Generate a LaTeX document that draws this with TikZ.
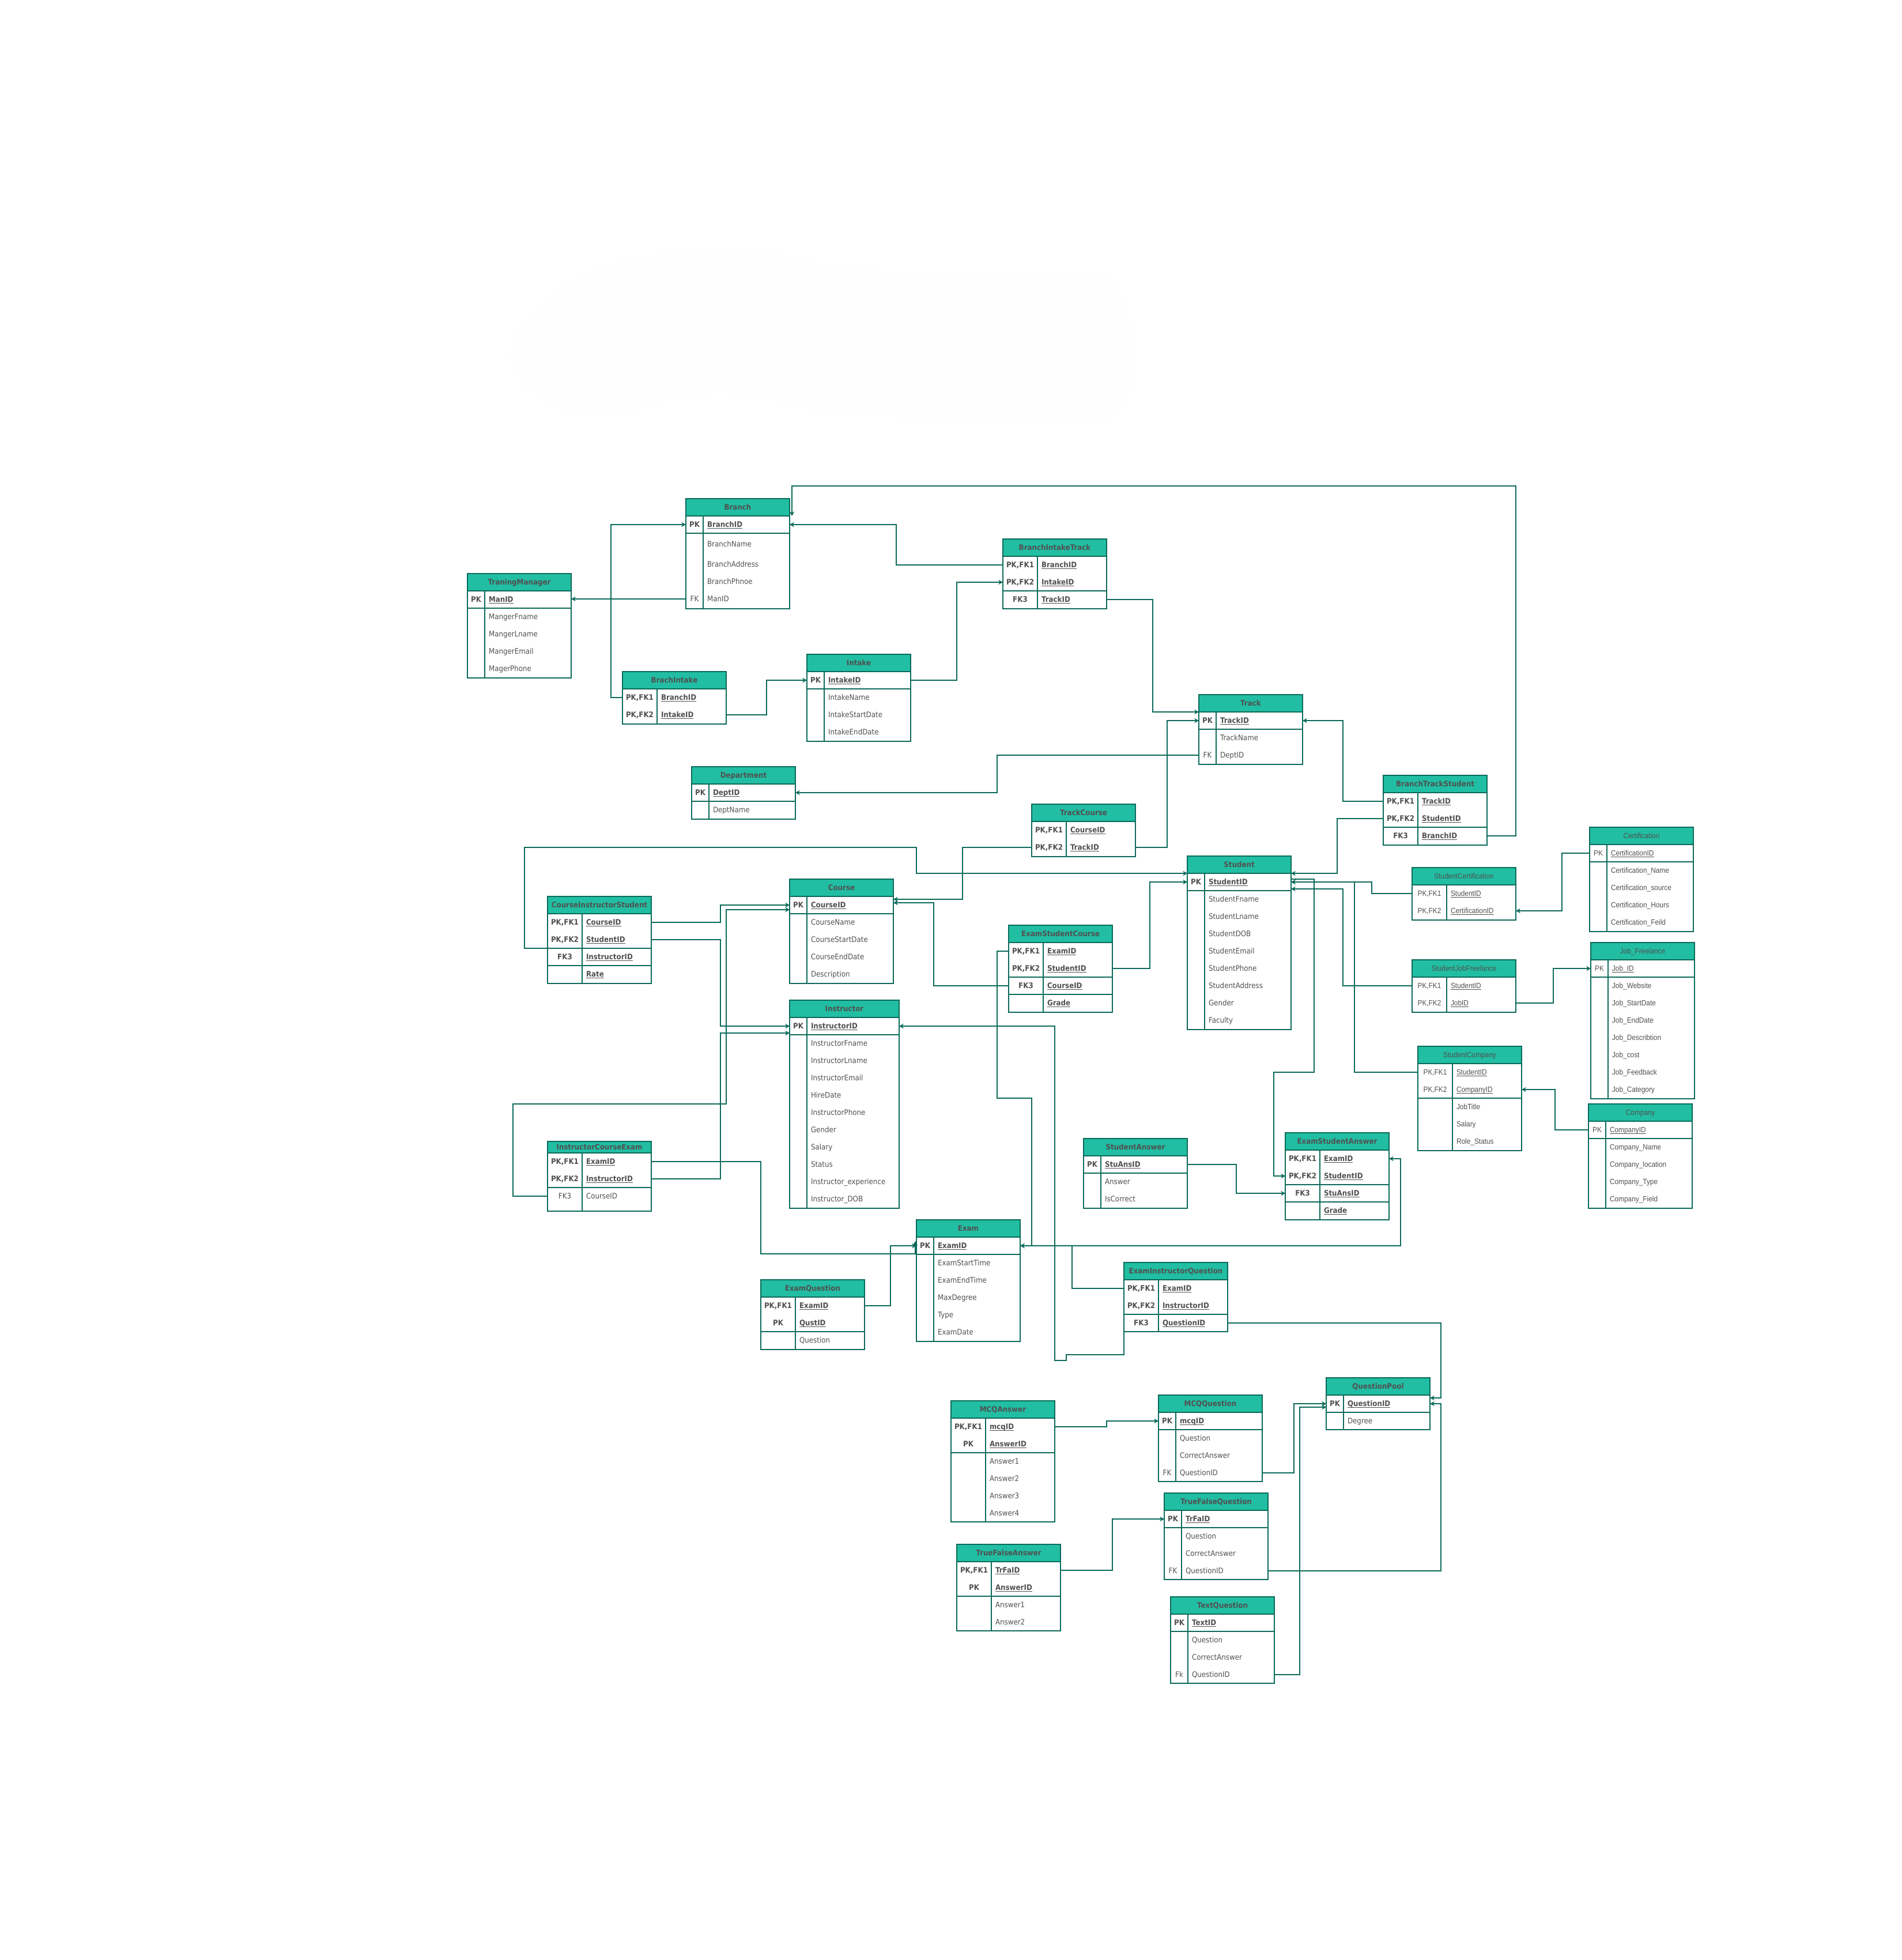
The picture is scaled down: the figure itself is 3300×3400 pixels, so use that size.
\documentclass[tikz,border=0pt]{standalone}
\usepackage{fontspec}
\setmainfont{DejaVu Sans}[FakeStretch=0.9]
\newfontfamily\arfam{Liberation Sans}[FakeStretch=0.9]
\usetikzlibrary{arrows.meta,calc}
\definecolor{hdr}{HTML}{21BEA3}
\definecolor{ln}{HTML}{0B6A5A}
\definecolor{tx}{HTML}{505050}
\definecolor{blobc}{HTML}{FEFEFE}
\newcommand\Dvf{\rmfamily\fontsize{3.75}{4.5}\selectfont}
\newcommand\Arf{\arfam\fontsize{3.75}{4.5}\selectfont}
\newcommand\Ul[1]{\setbox0\hbox{#1}\rlap{\rule[-0.6pt]{\wd0}{0.3pt}}\box0}
\newcommand\Kf[1]{\if b#1\bfseries\fi}
\newcommand\Fld[2]{\if n#1#2\else\Ul{#2}\fi}
\def\Thh{30}
\tikzset{
 tline/.style={draw=ln,line width=0.35pt},
 txt/.style={text=tx,inner sep=0pt,outer sep=0pt},
 rowbox/.style={inner sep=0pt,outer sep=0pt,minimum height=8.536pt,draw=none},
 fk/.style={draw=ln,line width=0.35pt,-{Stealth[length=2.2pt,width=2.4pt]}},
}
% name, x, ytop, width, keywidth, ybottom, title, font, title weight
\newcommand\Tbl[9]{%
 \def\Tx{#2}\def\Tw{#4}\def\Tkw{#5}\def\Tfont{#8}%
 \pgfmathsetmacro\Thb{#3+\Thh}%
 \fill[hdr] (#2,#3) rectangle ({#2+#4},\Thb);
 \draw[tline] (#2,#3) rectangle ({#2+#4},#6);
 \draw[tline] (#2,\Thb) -- ({#2+#4},\Thb);
 \draw[tline] ({#2+#5},\Thb) -- ({#2+#5},#6);
 \node[txt,anchor=base,font=#8#9] (#1-h) at ({#2+#4/2},{#3+\Thh/2+4.8}) {#7};
}
% name, index, ycenter, key, field, style
\newcommand\Rw[6]{%
 \node[rowbox,minimum width={\Tw*0.284527pt}] (#1-#2) at ({\Tx+\Tw/2},#3) {};
 \node[txt,anchor=base,font=\Tfont\Kf{#6}] (#1-#2k) at ({\Tx+\Tkw/2},{#3+4.8}) {#4};
 \node[txt,anchor=base west,font=\Tfont\Kf{#6}] (#1-#2f) at ({\Tx+\Tkw+7},{#3+4.8}) {\Fld{#6}{#5}};
}
\newcommand\Hl[1]{\draw[tline] (\Tx,#1) -- ({\Tx+\Tw},#1);}
\newcommand\Thk[1]{\draw[tline,line width=0.8pt] (\Tx,#1) -- ({\Tx+\Tw},#1);}
\begin{document}
\begin{tikzpicture}[x=0.01cm,y=-0.01cm]
\useasboundingbox (0,0) rectangle (3300,3400);
\fill[blobc] plot[smooth cycle,tension=0.7] coordinates {(892,587) (1025,473) (1271,430) (1481,467) (1832,477) (1945,507) (1950,700) (1832,727) (1481,720) (1243,682) (1046,720) (927,683)};

% Branch
\Tbl{br}{1190}{865}{180}{30}{1056}{Branch}{\Dvf}{\bfseries}
\Hl{925}
\Rw{br}{0}{910}{PK}{BranchID}{b}
\Rw{br}{1}{944}{}{BranchName}{n}
\Rw{br}{2}{979}{}{BranchAddress}{n}
\Rw{br}{3}{1009}{}{BranchPhnoe}{n}
\Rw{br}{4}{1039}{FK}{ManID}{n}
% TraningManager
\Tbl{tm}{811}{995}{180}{30}{1176}{TraningManager}{\Dvf}{\bfseries}
\Hl{1055}
\Rw{tm}{0}{1040}{PK}{ManID}{b}
\Rw{tm}{1}{1070}{}{MangerFname}{n}
\Rw{tm}{2}{1100}{}{MangerLname}{n}
\Rw{tm}{3}{1130}{}{MangerEmail}{n}
\Rw{tm}{4}{1160}{}{MagerPhone}{n}
% BrachIntake
\Tbl{bi}{1080}{1165}{180}{60}{1256}{BrachIntake}{\Dvf}{\bfseries}
\Rw{bi}{0}{1210}{PK,FK1}{BranchID}{b}
\Rw{bi}{1}{1240}{PK,FK2}{IntakeID}{b}
\Thk{1256}
% Intake
\Tbl{itk}{1400}{1135}{180}{30}{1286}{Intake}{\Dvf}{\bfseries}
\Hl{1195}
\Rw{itk}{0}{1180}{PK}{IntakeID}{b}
\Rw{itk}{1}{1210}{}{IntakeName}{n}
\Rw{itk}{2}{1240}{}{IntakeStartDate}{n}
\Rw{itk}{3}{1270}{}{IntakeEndDate}{n}
% BranchIntakeTrack
\Tbl{bit}{1740}{935}{180}{60}{1056}{BranchIntakeTrack}{\Dvf}{\bfseries}
\Rw{bit}{0}{980}{PK,FK1}{BranchID}{b}
\Rw{bit}{1}{1010}{PK,FK2}{IntakeID}{b}
\Hl{1025}
\Rw{bit}{2}{1040}{FK3}{TrackID}{b}
\Thk{1056}
% Track
\Tbl{tr}{2080}{1205}{180}{30}{1326}{Track}{\Dvf}{\bfseries}
\Hl{1265}
\Rw{tr}{0}{1250}{PK}{TrackID}{b}
\Rw{tr}{1}{1280}{}{TrackName}{n}
\Rw{tr}{2}{1310}{FK}{DeptID}{n}
% Department
\Tbl{dp}{1200}{1330}{180}{30}{1421}{Department}{\Dvf}{\bfseries}
\Hl{1390}
\Rw{dp}{0}{1375}{PK}{DeptID}{b}
\Rw{dp}{1}{1405}{}{DeptName}{n}
% TrackCourse
\Tbl{tc}{1790}{1395}{180}{60}{1486}{TrackCourse}{\Dvf}{\bfseries}
\Rw{tc}{0}{1440}{PK,FK1}{CourseID}{b}
\Rw{tc}{1}{1470}{PK,FK2}{TrackID}{b}
\Thk{1486}
% Course
\Tbl{co}{1370}{1525}{180}{30}{1706}{Course}{\Dvf}{\bfseries}
\Hl{1585}
\Rw{co}{0}{1570}{PK}{CourseID}{b}
\Rw{co}{1}{1600}{}{CourseName}{n}
\Rw{co}{2}{1630}{}{CourseStartDate}{n}
\Rw{co}{3}{1660}{}{CourseEndDate}{n}
\Rw{co}{4}{1690}{}{Description}{n}
% CourseInstructorStudent
\Tbl{cis}{950}{1555}{180}{60}{1706}{CourseInstructorStudent}{\Dvf}{\bfseries}
\Rw{cis}{0}{1600}{PK,FK1}{CourseID}{b}
\Rw{cis}{1}{1630}{PK,FK2}{StudentID}{b}
\Hl{1645}
\Rw{cis}{2}{1660}{FK3}{InstructorID}{b}
\Hl{1675}
\Rw{cis}{3}{1690}{}{Rate}{b}
\Thk{1706}
% Instructor
\Tbl{ins}{1370}{1735}{190}{30}{2096}{Instructor}{\Dvf}{\bfseries}
\Hl{1795}
\Rw{ins}{0}{1780}{PK}{InstructorID}{b}
\Rw{ins}{1}{1810}{}{InstructorFname}{n}
\Rw{ins}{2}{1840}{}{InstructorLname}{n}
\Rw{ins}{3}{1870}{}{InstructorEmail}{n}
\Rw{ins}{4}{1900}{}{HireDate}{n}
\Rw{ins}{5}{1930}{}{InstructorPhone}{n}
\Rw{ins}{6}{1960}{}{Gender}{n}
\Rw{ins}{7}{1990}{}{Salary}{n}
\Rw{ins}{8}{2020}{}{Status}{n}
\Rw{ins}{9}{2050}{}{Instructor\_experience}{n}
\Rw{ins}{10}{2080}{}{Instructor\_DOB}{n}
% ExamStudentCourse
\Tbl{esc}{1750}{1605}{180}{60}{1756}{ExamStudentCourse}{\Dvf}{\bfseries}
\Rw{esc}{0}{1650}{PK,FK1}{ExamID}{b}
\Rw{esc}{1}{1680}{PK,FK2}{StudentID}{b}
\Hl{1695}
\Rw{esc}{2}{1710}{FK3}{CourseID}{b}
\Hl{1725}
\Rw{esc}{3}{1740}{}{Grade}{b}
\Thk{1756}
% Student
\Tbl{st}{2060}{1485}{180}{30}{1786}{Student}{\Dvf}{\bfseries}
\Hl{1545}
\Rw{st}{0}{1530}{PK}{StudentID}{b}
\Rw{st}{1}{1560}{}{StudentFname}{n}
\Rw{st}{2}{1590}{}{StudentLname}{n}
\Rw{st}{3}{1620}{}{StudentDOB}{n}
\Rw{st}{4}{1650}{}{StudentEmail}{n}
\Rw{st}{5}{1680}{}{StudentPhone}{n}
\Rw{st}{6}{1710}{}{StudentAddress}{n}
\Rw{st}{7}{1740}{}{Gender}{n}
\Rw{st}{8}{1770}{}{Faculty}{n}
% BranchTrackStudent
\Tbl{bts}{2400}{1345}{180}{60}{1466}{BranchTrackStudent}{\Dvf}{\bfseries}
\Rw{bts}{0}{1390}{PK,FK1}{TrackID}{b}
\Rw{bts}{1}{1420}{PK,FK2}{StudentID}{b}
\Hl{1435}
\Rw{bts}{2}{1450}{FK3}{BranchID}{b}
\Thk{1466}
% Certification
\Tbl{cer}{2758}{1435}{180}{30}{1616}{Certification}{\Arf}{\mdseries}
\Hl{1495}
\Rw{cer}{0}{1480}{PK}{CertificationID}{u}
\Rw{cer}{1}{1510}{}{Certification\_Name}{n}
\Rw{cer}{2}{1540}{}{Certification\_source}{n}
\Rw{cer}{3}{1570}{}{Certification\_Hours}{n}
\Rw{cer}{4}{1600}{}{Certification\_Feild}{n}
% StudentCertification
\Tbl{sc}{2450}{1505}{180}{60}{1596}{StudentCertification}{\Arf}{\mdseries}
\Rw{sc}{0}{1550}{PK,FK1}{StudentID}{u}
\Rw{sc}{1}{1580}{PK,FK2}{CertificationID}{u}
\Thk{1596}
% StudentJobFreelance
\Tbl{sjf}{2450}{1665}{180}{60}{1756}{StudentJobFreelance}{\Arf}{\mdseries}
\Rw{sjf}{0}{1710}{PK,FK1}{StudentID}{u}
\Rw{sjf}{1}{1740}{PK,FK2}{JobID}{u}
\Thk{1756}
% Job_Freelance
\Tbl{job}{2760}{1635}{180}{30}{1906}{Job\_Freelance}{\Arf}{\mdseries}
\Hl{1695}
\Rw{job}{0}{1680}{PK}{Job\_ID}{u}
\Rw{job}{1}{1710}{}{Job\_Website}{n}
\Rw{job}{2}{1740}{}{Job\_StartDate}{n}
\Rw{job}{3}{1770}{}{Job\_EndDate}{n}
\Rw{job}{4}{1800}{}{Job\_Describtion}{n}
\Rw{job}{5}{1830}{}{Job\_cost}{n}
\Rw{job}{6}{1860}{}{Job\_Feedback}{n}
\Rw{job}{7}{1890}{}{Job\_Category}{n}
% StudentCompany
\Tbl{scm}{2460}{1815}{180}{60}{1996}{StudentCompany}{\Arf}{\mdseries}
\Rw{scm}{0}{1860}{PK,FK1}{StudentID}{u}
\Rw{scm}{1}{1890}{PK,FK2}{CompanyID}{u}
\Hl{1905}
\Rw{scm}{2}{1920}{}{JobTitle}{n}
\Rw{scm}{3}{1950}{}{Salary}{n}
\Rw{scm}{4}{1980}{}{Role\_Status}{n}
% Company
\Tbl{cmp}{2756}{1915}{180}{30}{2096}{Company}{\Arf}{\mdseries}
\Hl{1975}
\Rw{cmp}{0}{1960}{PK}{CompanyID}{u}
\Rw{cmp}{1}{1990}{}{Company\_Name}{n}
\Rw{cmp}{2}{2020}{}{Company\_location}{n}
\Rw{cmp}{3}{2050}{}{Company\_Type}{n}
\Rw{cmp}{4}{2080}{}{Company\_Field}{n}
% StudentAnswer
\Tbl{sa}{1880}{1975}{180}{30}{2096}{StudentAnswer}{\Dvf}{\bfseries}
\Hl{2035}
\Rw{sa}{0}{2020}{PK}{StuAnsID}{b}
\Rw{sa}{1}{2050}{}{Answer}{n}
\Rw{sa}{2}{2080}{}{IsCorrect}{n}
% ExamStudentAnswer
\Tbl{esa}{2230}{1965}{180}{60}{2116}{ExamStudentAnswer}{\Dvf}{\bfseries}
\Rw{esa}{0}{2010}{PK,FK1}{ExamID}{b}
\Rw{esa}{1}{2040}{PK,FK2}{StudentID}{b}
\Hl{2055}
\Rw{esa}{2}{2070}{FK3}{StuAnsID}{b}
\Hl{2085}
\Rw{esa}{3}{2100}{}{Grade}{b}
\Thk{2116}
% InstructorCourseExam
\def\Thh{20}
\Tbl{ice}{950}{1980}{180}{60}{2101}{InstructorCourseExam}{\Dvf}{\bfseries}
\Rw{ice}{0}{2015}{PK,FK1}{ExamID}{b}
\Rw{ice}{1}{2045}{PK,FK2}{InstructorID}{b}
\Hl{2060}
\Rw{ice}{2}{2075}{FK3}{CourseID}{n}
\def\Thh{30}
% Exam
\Tbl{ex}{1590}{2116}{180}{30}{2327}{Exam}{\Dvf}{\bfseries}
\Hl{2176}
\Rw{ex}{0}{2161}{PK}{ExamID}{b}
\Rw{ex}{1}{2191}{}{ExamStartTime}{n}
\Rw{ex}{2}{2221}{}{ExamEndTime}{n}
\Rw{ex}{3}{2251}{}{MaxDegree}{n}
\Rw{ex}{4}{2281}{}{Type}{n}
\Rw{ex}{5}{2311}{}{ExamDate}{n}
% ExamQuestion
\Tbl{eq}{1320}{2220}{180}{60}{2341}{ExamQuestion}{\Dvf}{\bfseries}
\Rw{eq}{0}{2265}{PK,FK1}{ExamID}{b}
\Rw{eq}{1}{2295}{PK}{QustID}{b}
\Hl{2310}
\Rw{eq}{2}{2325}{}{Question}{n}
% ExamInstructorQuestion
\Tbl{eiq}{1950}{2190}{180}{60}{2310}{ExamInstructorQuestion}{\Dvf}{\bfseries}
\Rw{eiq}{0}{2235}{PK,FK1}{ExamID}{b}
\Rw{eiq}{1}{2265}{PK,FK2}{InstructorID}{b}
\Hl{2280}
\Rw{eiq}{2}{2295}{FK3}{QuestionID}{b}
% QuestionPool
\Tbl{qp}{2301}{2390}{180}{30}{2480}{QuestionPool}{\Dvf}{\bfseries}
\Hl{2450}
\Rw{qp}{0}{2435}{PK}{QuestionID}{b}
\Rw{qp}{1}{2465}{}{Degree}{n}
% MCQQuestion
\Tbl{mq}{2010}{2420}{180}{30}{2570}{MCQQuestion}{\Dvf}{\bfseries}
\Hl{2480}
\Rw{mq}{0}{2465}{PK}{mcqID}{b}
\Rw{mq}{1}{2495}{}{Question}{n}
\Rw{mq}{2}{2525}{}{CorrectAnswer}{n}
\Rw{mq}{3}{2555}{FK}{QuestionID}{n}
% TrueFalseQuestion
\Tbl{tfq}{2020}{2590}{180}{30}{2740}{TrueFalseQuestion}{\Dvf}{\bfseries}
\Hl{2650}
\Rw{tfq}{0}{2635}{PK}{TrFaID}{b}
\Rw{tfq}{1}{2665}{}{Question}{n}
\Rw{tfq}{2}{2695}{}{CorrectAnswer}{n}
\Rw{tfq}{3}{2725}{FK}{QuestionID}{n}
% TextQuestion
\Tbl{txq}{2031}{2770}{180}{30}{2920}{TextQuestion}{\Dvf}{\bfseries}
\Hl{2830}
\Rw{txq}{0}{2815}{PK}{TextID}{b}
\Rw{txq}{1}{2845}{}{Question}{n}
\Rw{txq}{2}{2875}{}{CorrectAnswer}{n}
\Rw{txq}{3}{2905}{Fk}{QuestionID}{n}
% MCQAnswer
\Tbl{ma}{1650}{2430}{180}{60}{2640}{MCQAnswer}{\Dvf}{\bfseries}
\Rw{ma}{0}{2475}{PK,FK1}{mcqID}{b}
\Rw{ma}{1}{2505}{PK}{AnswerID}{b}
\Hl{2520}
\Rw{ma}{2}{2535}{}{Answer1}{n}
\Rw{ma}{3}{2565}{}{Answer2}{n}
\Rw{ma}{4}{2595}{}{Answer3}{n}
\Rw{ma}{5}{2625}{}{Answer4}{n}
% TrueFalseAnswer
\Tbl{tfa}{1660}{2679}{180}{60}{2829}{TrueFalseAnswer}{\Dvf}{\bfseries}
\Rw{tfa}{0}{2724}{PK,FK1}{TrFaID}{b}
\Rw{tfa}{1}{2754}{PK}{AnswerID}{b}
\Hl{2769}
\Rw{tfa}{2}{2784}{}{Answer1}{n}
\Rw{tfa}{3}{2814}{}{Answer2}{n}

% ---------- connectors ----------
\draw[fk] (br-4.west) -- (br-4.west -| tm-0.east);
\draw[fk] (bi-0.west) -- ++(-20,0) |- (br-0.west);
\draw[fk] (bi-1.east) -- ++(70,0) |- (itk-0.west);
\draw[fk] (bts-2.east) -- ++(50,0) -- ++(0,-607) -| ($(br-0.north east)+(4,0)$);
\draw[fk] (bit-0.west) -- ++(-185,0) |- (br-0.east);
\draw[fk] (itk-0.east) -- ++(80,0) |- (bit-1.west);
\draw[fk] (bit-2.east) -- ++(80,0) |- (tr-0.north west);
\draw[fk] (tc-1.east) -- ++(55,0) |- (tr-0.west);
\draw[fk] (tr-2.west) -- ++(-350,0) |- (dp-0.east);
\draw[fk] (bts-0.west) -- ++(-70,0) |- (tr-0.east);
\draw[fk] (tc-1.west) -- ++(-120,0) |- ($(co-0.east)+(0,-10)$);
\draw[fk] (cis-1.south west) -- ++(-40,0) -- ++(0,-175) -- ++(680,0) |- (st-0.north west);
\draw[fk] (cis-0.east) -- ++(120,0) |- (co-0.west);
\draw[fk] (cis-1.east) -- ++(120,0) |- (ins-0.west);
\draw[fk] (ice-2.west) -- ++(-60,0) -- ++(0,-160) -- ++(370,0) |- ($(co-0.west)+(0,8)$);
\draw[fk] (ice-1.east) -- ++(120,0) |- ($(ins-0.west)+(0,12)$);
\draw[fk] (esc-2.west) -- ++(-130,0) |- ($(co-0.east)+(0,-4)$);
\draw[fk] (esc-1.east) -- ++(65,0) |- (st-0.west);
\draw[fk] (esc-0.west) -- ++(-20,0) -- ++(0,255) -- ++(60,0) |- (ex-0.east);
\draw[fk] (eiq-0.west) -- ++(-90,0) |- (ex-0.east);
\draw[fk] (ex-0.east) -- ++(660,0) |- (esa-0.east);
\draw[fk] (eiq-2.south west) -- ++(0,40) -- ++(-100,0) -- ++(0,10) -- ++(-20,0) |- (ins-0.east);
\draw[fk] (eq-0.east) -- ++(45,0) |- (ex-0.west);
\draw[fk] (ice-0.east) -- ++(190,0) -- ++(0,160) -| ($(ex-0.west)+(-2,-8)$);
\draw[fk] (sa-0.east) -- ++(85,0) |- (esa-2.west);
\draw[fk] ($(st-0.east)+(0,-5)$) -- ++(40,0) -- ++(0,335) -- ++(-70,0) |- (esa-1.west);
\draw[fk] (bts-1.west) -- ++(-80,0) |- (st-0.north east);
\draw[fk] (sc-0.west) -- ++(-70,0) |- (st-0.east);
\draw[fk] (scm-0.west) -- ++(-110,0) |- (st-0.east);
\draw[fk] (sjf-0.west) -- ++(-120,0) |- ($(st-0.east)+(0,12)$);
\draw[fk] (cer-0.west) -- ++(-48,0) |- (sc-1.east);
\draw[fk] (sjf-1.east) -- ++(65,0) |- (job-0.west);
\draw[fk] (cmp-0.west) -- ++(-58,0) |- (scm-1.east);
\draw[fk] (eiq-2.east) -- ++(370,0) |- ($(qp-0.north east)+(0,5)$);
\draw[fk] (tfq-3.east) -- ++(300,0) |- (qp-0.east);
\draw[fk] (mq-3.east) -- ++(55,0) |- (qp-0.west);
\draw[fk] (txq-3.east) -- ++(44,0) |- ($(qp-0.west)+(0,6)$);
\draw[fk] (ma-0.east) -- ++(90,0) |- (mq-0.west);
\draw[fk] (tfa-0.east) -- ++(90,0) |- (tfq-0.west);
\end{tikzpicture}
\end{document}
